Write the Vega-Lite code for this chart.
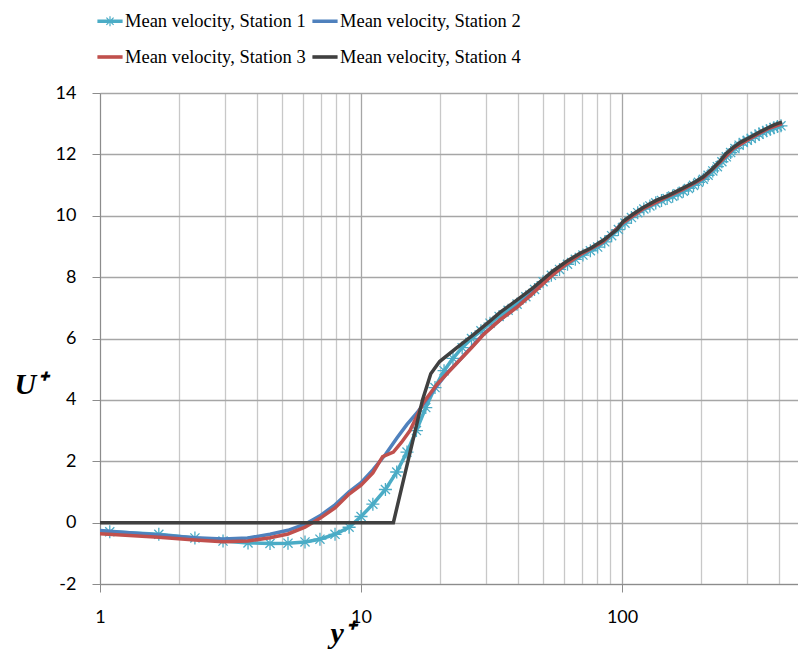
{
  "$schema": "https://vega.github.io/schema/vega-lite/v6.json",
  "width": 698,
  "height": 491,
  "autosize": {"type": "none"},
  "padding": {"left": 100, "top": 93, "right": 0, "bottom": 70},
  "background": "white",
  "config": {
    "view": {"stroke": null},
    "axis": {"labelFont": "Lato", "labelFontSize": 18, "labelColor": "#000000", "domainColor": "#8c8c8c", "tickColor": "#8c8c8c", "tickSize": 8, "titleColor": "#000000"}
  },
  "datasets": {
    "pts": [
      {"s": "Mean velocity, Station 1", "y": 0.85, "u": -0.22},
      {"s": "Mean velocity, Station 1", "y": 1.09, "u": -0.30},
      {"s": "Mean velocity, Station 1", "y": 1.68, "u": -0.38},
      {"s": "Mean velocity, Station 1", "y": 2.31, "u": -0.50},
      {"s": "Mean velocity, Station 1", "y": 2.96, "u": -0.60},
      {"s": "Mean velocity, Station 1", "y": 3.69, "u": -0.66},
      {"s": "Mean velocity, Station 1", "y": 4.48, "u": -0.68},
      {"s": "Mean velocity, Station 1", "y": 5.25, "u": -0.67},
      {"s": "Mean velocity, Station 1", "y": 6.1, "u": -0.63},
      {"s": "Mean velocity, Station 1", "y": 6.96, "u": -0.54},
      {"s": "Mean velocity, Station 1", "y": 7.95, "u": -0.38},
      {"s": "Mean velocity, Station 1", "y": 9.0, "u": -0.15},
      {"s": "Mean velocity, Station 1", "y": 10.0, "u": 0.2},
      {"s": "Mean velocity, Station 1", "y": 11.1, "u": 0.6},
      {"s": "Mean velocity, Station 1", "y": 12.4, "u": 1.08},
      {"s": "Mean velocity, Station 1", "y": 13.7, "u": 1.65},
      {"s": "Mean velocity, Station 1", "y": 15.0, "u": 2.3},
      {"s": "Mean velocity, Station 1", "y": 16.3, "u": 3.0},
      {"s": "Mean velocity, Station 1", "y": 17.7, "u": 3.75},
      {"s": "Mean velocity, Station 1", "y": 19.2, "u": 4.4},
      {"s": "Mean velocity, Station 1", "y": 20.8, "u": 4.95},
      {"s": "Mean velocity, Station 1", "y": 22.5, "u": 5.35},
      {"s": "Mean velocity, Station 1", "y": 24.4, "u": 5.7},
      {"s": "Mean velocity, Station 1", "y": 26.5, "u": 6.0},
      {"s": "Mean velocity, Station 1", "y": 28.8, "u": 6.25},
      {"s": "Mean velocity, Station 1", "y": 31.2, "u": 6.5},
      {"s": "Mean velocity, Station 1", "y": 33.8, "u": 6.72},
      {"s": "Mean velocity, Station 1", "y": 36.6, "u": 6.92},
      {"s": "Mean velocity, Station 1", "y": 39.6, "u": 7.12},
      {"s": "Mean velocity, Station 1", "y": 42.8, "u": 7.36},
      {"s": "Mean velocity, Station 1", "y": 46.2, "u": 7.6},
      {"s": "Mean velocity, Station 1", "y": 49.8, "u": 7.85},
      {"s": "Mean velocity, Station 1", "y": 53.6, "u": 8.06},
      {"s": "Mean velocity, Station 1", "y": 57.6, "u": 8.25},
      {"s": "Mean velocity, Station 1", "y": 61.8, "u": 8.42},
      {"s": "Mean velocity, Station 1", "y": 66.2, "u": 8.58},
      {"s": "Mean velocity, Station 1", "y": 70.8, "u": 8.72},
      {"s": "Mean velocity, Station 1", "y": 75.6, "u": 8.86},
      {"s": "Mean velocity, Station 1", "y": 80.6, "u": 8.98},
      {"s": "Mean velocity, Station 1", "y": 85.8, "u": 9.15},
      {"s": "Mean velocity, Station 1", "y": 91.2, "u": 9.35},
      {"s": "Mean velocity, Station 1", "y": 96.8, "u": 9.55},
      {"s": "Mean velocity, Station 1", "y": 102.6, "u": 9.76},
      {"s": "Mean velocity, Station 1", "y": 108.6, "u": 9.94},
      {"s": "Mean velocity, Station 1", "y": 114.8, "u": 10.1},
      {"s": "Mean velocity, Station 1", "y": 121.2, "u": 10.22},
      {"s": "Mean velocity, Station 1", "y": 127.8, "u": 10.32},
      {"s": "Mean velocity, Station 1", "y": 134.6, "u": 10.42},
      {"s": "Mean velocity, Station 1", "y": 141.6, "u": 10.5},
      {"s": "Mean velocity, Station 1", "y": 148.8, "u": 10.56},
      {"s": "Mean velocity, Station 1", "y": 156.2, "u": 10.64},
      {"s": "Mean velocity, Station 1", "y": 163.8, "u": 10.72},
      {"s": "Mean velocity, Station 1", "y": 171.6, "u": 10.8},
      {"s": "Mean velocity, Station 1", "y": 179.6, "u": 10.89},
      {"s": "Mean velocity, Station 1", "y": 187.8, "u": 10.99},
      {"s": "Mean velocity, Station 1", "y": 196.2, "u": 11.09},
      {"s": "Mean velocity, Station 1", "y": 204.8, "u": 11.19},
      {"s": "Mean velocity, Station 1", "y": 213.6, "u": 11.32},
      {"s": "Mean velocity, Station 1", "y": 222.6, "u": 11.46},
      {"s": "Mean velocity, Station 1", "y": 231.8, "u": 11.6},
      {"s": "Mean velocity, Station 1", "y": 241.2, "u": 11.76},
      {"s": "Mean velocity, Station 1", "y": 250.8, "u": 11.92},
      {"s": "Mean velocity, Station 1", "y": 260.6, "u": 12.06},
      {"s": "Mean velocity, Station 1", "y": 270.6, "u": 12.19},
      {"s": "Mean velocity, Station 1", "y": 280.8, "u": 12.3},
      {"s": "Mean velocity, Station 1", "y": 291.2, "u": 12.39},
      {"s": "Mean velocity, Station 1", "y": 301.8, "u": 12.46},
      {"s": "Mean velocity, Station 1", "y": 312.6, "u": 12.52},
      {"s": "Mean velocity, Station 1", "y": 323.6, "u": 12.59},
      {"s": "Mean velocity, Station 1", "y": 334.8, "u": 12.66},
      {"s": "Mean velocity, Station 1", "y": 346.2, "u": 12.72},
      {"s": "Mean velocity, Station 1", "y": 357.8, "u": 12.77},
      {"s": "Mean velocity, Station 1", "y": 369.6, "u": 12.82},
      {"s": "Mean velocity, Station 1", "y": 381.6, "u": 12.87},
      {"s": "Mean velocity, Station 1", "y": 393.8, "u": 12.91},
      {"s": "Mean velocity, Station 1", "y": 406.2, "u": 12.93},

      {"s": "Mean velocity, Station 2", "y": 0.85, "u": -0.22},
      {"s": "Mean velocity, Station 2", "y": 1.0, "u": -0.26},
      {"s": "Mean velocity, Station 2", "y": 1.68, "u": -0.40},
      {"s": "Mean velocity, Station 2", "y": 2.31, "u": -0.49},
      {"s": "Mean velocity, Station 2", "y": 2.96, "u": -0.53},
      {"s": "Mean velocity, Station 2", "y": 3.69, "u": -0.50},
      {"s": "Mean velocity, Station 2", "y": 4.48, "u": -0.38},
      {"s": "Mean velocity, Station 2", "y": 5.25, "u": -0.25},
      {"s": "Mean velocity, Station 2", "y": 6.1, "u": -0.05},
      {"s": "Mean velocity, Station 2", "y": 6.96, "u": 0.22},
      {"s": "Mean velocity, Station 2", "y": 7.95, "u": 0.58},
      {"s": "Mean velocity, Station 2", "y": 9.0, "u": 1.0},
      {"s": "Mean velocity, Station 2", "y": 10.0, "u": 1.3},
      {"s": "Mean velocity, Station 2", "y": 11.1, "u": 1.72},
      {"s": "Mean velocity, Station 2", "y": 12.4, "u": 2.22},
      {"s": "Mean velocity, Station 2", "y": 13.7, "u": 2.75},
      {"s": "Mean velocity, Station 2", "y": 15.0, "u": 3.2},
      {"s": "Mean velocity, Station 2", "y": 16.4, "u": 3.58},
      {"s": "Mean velocity, Station 2", "y": 18.0, "u": 4.05},
      {"s": "Mean velocity, Station 2", "y": 19.5, "u": 4.45},
      {"s": "Mean velocity, Station 2", "y": 21.5, "u": 4.9},
      {"s": "Mean velocity, Station 2", "y": 23.3, "u": 5.2},
      {"s": "Mean velocity, Station 2", "y": 26.5, "u": 5.72},
      {"s": "Mean velocity, Station 2", "y": 29.4, "u": 6.14},
      {"s": "Mean velocity, Station 2", "y": 34.0, "u": 6.6},
      {"s": "Mean velocity, Station 2", "y": 39.6, "u": 7.04},
      {"s": "Mean velocity, Station 2", "y": 45.6, "u": 7.5},
      {"s": "Mean velocity, Station 2", "y": 53.0, "u": 8.04},
      {"s": "Mean velocity, Station 2", "y": 61.0, "u": 8.44},
      {"s": "Mean velocity, Station 2", "y": 69.0, "u": 8.74},
      {"s": "Mean velocity, Station 2", "y": 84.6, "u": 9.16},
      {"s": "Mean velocity, Station 2", "y": 101.0, "u": 9.78},
      {"s": "Mean velocity, Station 2", "y": 120.0, "u": 10.22},
      {"s": "Mean velocity, Station 2", "y": 149.0, "u": 10.62},
      {"s": "Mean velocity, Station 2", "y": 171.0, "u": 10.86},
      {"s": "Mean velocity, Station 2", "y": 204.0, "u": 11.22},
      {"s": "Mean velocity, Station 2", "y": 237.0, "u": 11.74},
      {"s": "Mean velocity, Station 2", "y": 266.0, "u": 12.18},
      {"s": "Mean velocity, Station 2", "y": 309.0, "u": 12.52},
      {"s": "Mean velocity, Station 2", "y": 359.0, "u": 12.82},
      {"s": "Mean velocity, Station 2", "y": 410.0, "u": 13.0},

      {"s": "Mean velocity, Station 3", "y": 0.85, "u": -0.32},
      {"s": "Mean velocity, Station 3", "y": 1.0, "u": -0.36},
      {"s": "Mean velocity, Station 3", "y": 1.68, "u": -0.48},
      {"s": "Mean velocity, Station 3", "y": 2.31, "u": -0.57},
      {"s": "Mean velocity, Station 3", "y": 2.96, "u": -0.62},
      {"s": "Mean velocity, Station 3", "y": 3.69, "u": -0.60},
      {"s": "Mean velocity, Station 3", "y": 4.48, "u": -0.49},
      {"s": "Mean velocity, Station 3", "y": 5.25, "u": -0.37},
      {"s": "Mean velocity, Station 3", "y": 6.1, "u": -0.15},
      {"s": "Mean velocity, Station 3", "y": 6.96, "u": 0.14},
      {"s": "Mean velocity, Station 3", "y": 7.95, "u": 0.48},
      {"s": "Mean velocity, Station 3", "y": 9.0, "u": 0.93},
      {"s": "Mean velocity, Station 3", "y": 10.0, "u": 1.22},
      {"s": "Mean velocity, Station 3", "y": 11.1, "u": 1.62},
      {"s": "Mean velocity, Station 3", "y": 12.1, "u": 2.15},
      {"s": "Mean velocity, Station 3", "y": 13.3, "u": 2.3},
      {"s": "Mean velocity, Station 3", "y": 14.3, "u": 2.62},
      {"s": "Mean velocity, Station 3", "y": 15.4, "u": 3.0},
      {"s": "Mean velocity, Station 3", "y": 17.3, "u": 3.9},
      {"s": "Mean velocity, Station 3", "y": 19.5, "u": 4.5},
      {"s": "Mean velocity, Station 3", "y": 23.3, "u": 5.2},
      {"s": "Mean velocity, Station 3", "y": 26.5, "u": 5.7},
      {"s": "Mean velocity, Station 3", "y": 29.4, "u": 6.12},
      {"s": "Mean velocity, Station 3", "y": 34.0, "u": 6.6},
      {"s": "Mean velocity, Station 3", "y": 39.6, "u": 7.02},
      {"s": "Mean velocity, Station 3", "y": 45.6, "u": 7.48},
      {"s": "Mean velocity, Station 3", "y": 53.0, "u": 8.0},
      {"s": "Mean velocity, Station 3", "y": 61.0, "u": 8.42},
      {"s": "Mean velocity, Station 3", "y": 69.0, "u": 8.73},
      {"s": "Mean velocity, Station 3", "y": 84.6, "u": 9.15},
      {"s": "Mean velocity, Station 3", "y": 101.0, "u": 9.78},
      {"s": "Mean velocity, Station 3", "y": 120.0, "u": 10.22},
      {"s": "Mean velocity, Station 3", "y": 149.0, "u": 10.62},
      {"s": "Mean velocity, Station 3", "y": 171.0, "u": 10.86},
      {"s": "Mean velocity, Station 3", "y": 204.0, "u": 11.22},
      {"s": "Mean velocity, Station 3", "y": 237.0, "u": 11.74},
      {"s": "Mean velocity, Station 3", "y": 266.0, "u": 12.18},
      {"s": "Mean velocity, Station 3", "y": 309.0, "u": 12.52},
      {"s": "Mean velocity, Station 3", "y": 359.0, "u": 12.82},
      {"s": "Mean velocity, Station 3", "y": 410.0, "u": 13.0},

      {"s": "Mean velocity, Station 4", "y": 0.85, "u": 0},
      {"s": "Mean velocity, Station 4", "y": 13.3, "u": 0},
      {"s": "Mean velocity, Station 4", "y": 17.2, "u": 4.0},
      {"s": "Mean velocity, Station 4", "y": 18.5, "u": 4.85},
      {"s": "Mean velocity, Station 4", "y": 20.0, "u": 5.25},
      {"s": "Mean velocity, Station 4", "y": 23.3, "u": 5.7},
      {"s": "Mean velocity, Station 4", "y": 26.9, "u": 6.12},
      {"s": "Mean velocity, Station 4", "y": 31.0, "u": 6.55},
      {"s": "Mean velocity, Station 4", "y": 34.1, "u": 6.85},
      {"s": "Mean velocity, Station 4", "y": 40.7, "u": 7.33},
      {"s": "Mean velocity, Station 4", "y": 45.6, "u": 7.65},
      {"s": "Mean velocity, Station 4", "y": 54.4, "u": 8.2},
      {"s": "Mean velocity, Station 4", "y": 61.0, "u": 8.5},
      {"s": "Mean velocity, Station 4", "y": 69.0, "u": 8.78},
      {"s": "Mean velocity, Station 4", "y": 76.0, "u": 8.95},
      {"s": "Mean velocity, Station 4", "y": 84.6, "u": 9.2},
      {"s": "Mean velocity, Station 4", "y": 95.7, "u": 9.55},
      {"s": "Mean velocity, Station 4", "y": 101.0, "u": 9.82},
      {"s": "Mean velocity, Station 4", "y": 110.0, "u": 10.05},
      {"s": "Mean velocity, Station 4", "y": 120.0, "u": 10.26},
      {"s": "Mean velocity, Station 4", "y": 135.0, "u": 10.5},
      {"s": "Mean velocity, Station 4", "y": 149.0, "u": 10.65},
      {"s": "Mean velocity, Station 4", "y": 171.0, "u": 10.9},
      {"s": "Mean velocity, Station 4", "y": 190.0, "u": 11.1},
      {"s": "Mean velocity, Station 4", "y": 204.0, "u": 11.26},
      {"s": "Mean velocity, Station 4", "y": 220.0, "u": 11.5},
      {"s": "Mean velocity, Station 4", "y": 237.0, "u": 11.78},
      {"s": "Mean velocity, Station 4", "y": 250.0, "u": 12.02},
      {"s": "Mean velocity, Station 4", "y": 266.0, "u": 12.22},
      {"s": "Mean velocity, Station 4", "y": 285.0, "u": 12.4},
      {"s": "Mean velocity, Station 4", "y": 309.0, "u": 12.56},
      {"s": "Mean velocity, Station 4", "y": 335.0, "u": 12.72},
      {"s": "Mean velocity, Station 4", "y": 359.0, "u": 12.85},
      {"s": "Mean velocity, Station 4", "y": 380.0, "u": 12.95},
      {"s": "Mean velocity, Station 4", "y": 393.0, "u": 13.0},
      {"s": "Mean velocity, Station 4", "y": 410.0, "u": 13.05}
    ]
  },
  "data": {"name": "pts"},
  "encoding": {
    "x": {
      "field": "y", "type": "quantitative",
      "scale": {"type": "log", "domain": [1, 472], "nice": false},
      "axis": {
        "values": [1,2,3,4,5,6,7,8,9,10,20,30,40,50,60,70,80,90,100,200,300,400],
        "labelExpr": "(datum.value == 1 || datum.value == 10 || datum.value == 100) ? datum.label : ''",
        "grid": true,
        "gridColor": {"condition": {"test": "datum.value == 1 || datum.value == 10 || datum.value == 100", "value": "#a6a6a6"}, "value": "#c8c8c8"},
        "gridWidth": 1.3,
        "tickColor": {"condition": {"test": "datum.value == 1 || datum.value == 10 || datum.value == 100", "value": "#8c8c8c"}, "value": "transparent"},
        "labelPadding": 16,
        "labelFlush": false,
        "title": "y⁺",
        "titleFont": "Liberation Serif", "titleFontSize": 30, "titleFontStyle": "italic", "titleFontWeight": "bold",
        "titleAlign": "left", "titleBaseline": "alphabetic", "titleAnchor": null,
        "titleX": 230, "titleY": 58
      }
    },
    "y": {
      "field": "u", "type": "quantitative",
      "scale": {"domain": [-2, 14], "nice": false, "zero": false},
      "axis": {
        "values": [-2,0,2,4,6,8,10,12,14],
        "labelExpr": "'' + datum.value",
        "grid": true, "gridColor": "#a6a6a6", "gridWidth": 1.3,
        "labelPadding": 16,
        "title": "U⁺",
        "titleFont": "Liberation Serif", "titleFontSize": 30, "titleFontStyle": "italic", "titleFontWeight": "bold",
        "titleAngle": 0, "titleAlign": "left", "titleBaseline": "alphabetic", "titleAnchor": null,
        "titleX": -86, "titleY": 300
      }
    }
  },
  "layer": [
    {
      "transform": [{"filter": "datum.s == 'Mean velocity, Station 1'"}],
      "mark": {"type": "line", "strokeWidth": 3.5, "clip": true},
      "encoding": {
        "color": {
          "field": "s", "type": "nominal",
          "scale": {"domain": ["Mean velocity, Station 1", "Mean velocity, Station 2", "Mean velocity, Station 3", "Mean velocity, Station 4"], "range": ["#4BACC6", "#4F81BD", "#C0504D", "#404040"]},
          "legend": {
            "orient": "none", "legendX": -3, "legendY": -85, "columns": 2, "direction": "horizontal",
            "title": null, "padding": 0, "offset": 0,
            "labelFont": "Liberation Serif", "labelFontSize": 18.5, "labelColor": "#000000", "labelOffset": 2, "labelLimit": 0,
            "symbolSize": 576, "symbolStrokeWidth": 1.2, "columnPadding": 4, "rowPadding": 13,
            "encode": {
              "symbols": {
                "update": {
                  "shape": {"signal": "datum.value == 'Mean velocity, Station 1' ? 'M-1,-0.1L1,-0.1L1,0.1L-1,0.1Z M-0.3,-0.3L0.3,0.3 M-0.3,0.3L0.3,-0.3 M0,-0.42L0,0.42' : 'M-1,-0.1L1,-0.1L1,0.1L-1,0.1Z'"},
                  "fill": {"scale": "color", "field": "value"},
                  "stroke": {"scale": "color", "field": "value"},
                  "strokeWidth": {"value": 1.2},
                  "opacity": {"value": 1}
                }
              }
            }
          }
        }
      }
    },
    {
      "transform": [{"filter": "datum.s == 'Mean velocity, Station 1'"}],
      "mark": {"type": "point", "shape": "M-0.7,-0.7L0.7,0.7M-0.7,0.7L0.7,-0.7M0,-1L0,1M-1,0L1,0", "size": 170, "strokeWidth": 1.3, "filled": false, "opacity": 1, "clip": true},
      "encoding": {"color": {"value": "#4BACC6"}}
    },
    {
      "transform": [{"filter": "datum.s == 'Mean velocity, Station 2'"}],
      "mark": {"type": "line", "strokeWidth": 3.5, "clip": true},
      "encoding": {"color": {"field": "s", "type": "nominal"}}
    },
    {
      "transform": [{"filter": "datum.s == 'Mean velocity, Station 3'"}],
      "mark": {"type": "line", "strokeWidth": 3.5, "clip": true},
      "encoding": {"color": {"field": "s", "type": "nominal"}}
    },
    {
      "transform": [{"filter": "datum.s == 'Mean velocity, Station 4'"}],
      "mark": {"type": "line", "strokeWidth": 3.5, "clip": true},
      "encoding": {"color": {"field": "s", "type": "nominal"}}
    }
  ]
}
